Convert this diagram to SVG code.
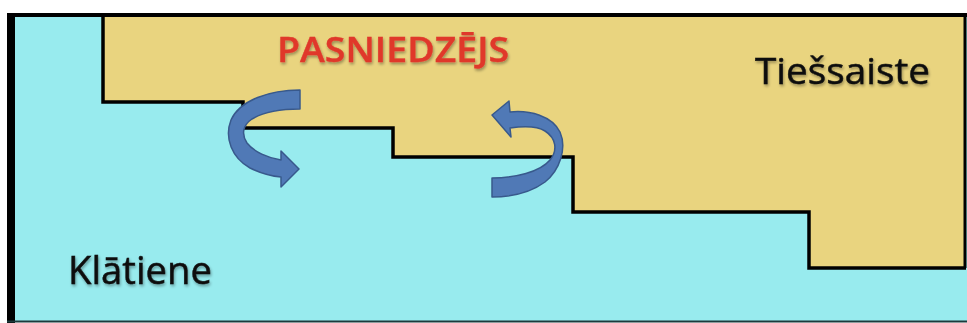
<svg xmlns="http://www.w3.org/2000/svg" width="967" height="323" viewBox="0 0 967 323">
<style>
.stairs{fill:none;stroke:#000;stroke-width:3.5;stroke-linejoin:miter}
.arrow{fill:#5079b6;stroke:#38598c;stroke-width:1.5;stroke-linejoin:round}
.lbl{font-family:"Open Sans","Noto Sans","Liberation Sans",sans-serif;fill:#111;stroke:#111;stroke-width:0.5}
.title{font-family:"Open Sans","Noto Sans","Liberation Sans",sans-serif;font-weight:600;fill:#e0382b;stroke:#e0382b;stroke-width:0.4}
</style>
<defs>
<filter id="sh" x="-10%" y="-20%" width="120%" height="150%">
<feGaussianBlur in="SourceAlpha" stdDeviation="1.5"/>
<feOffset dx="1" dy="2" result="b"/>
<feComponentTransfer><feFuncA type="linear" slope="0.35"/></feComponentTransfer>
<feMerge><feMergeNode/><feMergeNode in="SourceGraphic"/></feMerge>
</filter>
</defs>
<rect x="0" y="0" width="967" height="323" fill="#ffffff"/>
<g id="klatiene">
<rect x="10" y="15" width="957" height="307" fill="#98ebee"/>
</g>
<g id="tiessaiste">
<polygon points="103,15 965,15 965,268 809,268 809,212 573,212 573,157 393,157 393,128 243,128 243,102 103,102" fill="#e9d47f"/>
</g>
<g id="connectors">
<polyline class="stairs" points="103,15 103,102 243,102 243,128 393,128 393,157 573,157 573,212 809,212 809,268 966,268"/>
<line x1="7" y1="15" x2="967" y2="15" stroke="#000" stroke-width="4"/>
<line x1="11" y1="13" x2="11" y2="323" stroke="#000" stroke-width="8"/>
<line x1="965" y1="13" x2="965" y2="268" stroke="#000" stroke-width="3"/>
<line x1="7" y1="321.5" x2="967" y2="321.5" stroke="#1d3a3c" stroke-width="2"/>
<path id="arrow-left" class="arrow" d="M300,90 C270,90 240,100 231,120 C224,138 232,158 250,168 C258,172 270,176 281,177 L281,187 L299,169 L281,151 L281,160 C268,158 254,152 247,143 C241,134 243,125 252,119 C265,111 283,109 300,109 Z"/>
<path id="arrow-right" class="arrow" d="M492,178 C515,178 540,172 550,160 C558,150 556,138 545,131 C537,126 525,126 510,128 L511,137 L492,115 L509,101 L510,112 C530,110 552,116 560,132 C567,148 560,170 545,182 C530,193 510,197 492,197 Z"/>
</g>
<g id="labels" filter="url(#sh)">
<text class="title" x="277" y="62" font-size="35" textLength="232" lengthAdjust="spacingAndGlyphs">PASNIEDZĒJS</text>
<text class="lbl" x="755" y="84" font-size="37" textLength="175" lengthAdjust="spacingAndGlyphs">Tiešsaiste</text>
<text class="lbl" x="68" y="284" font-size="38" textLength="144" lengthAdjust="spacingAndGlyphs">Klātiene</text>
</g>
</svg>
